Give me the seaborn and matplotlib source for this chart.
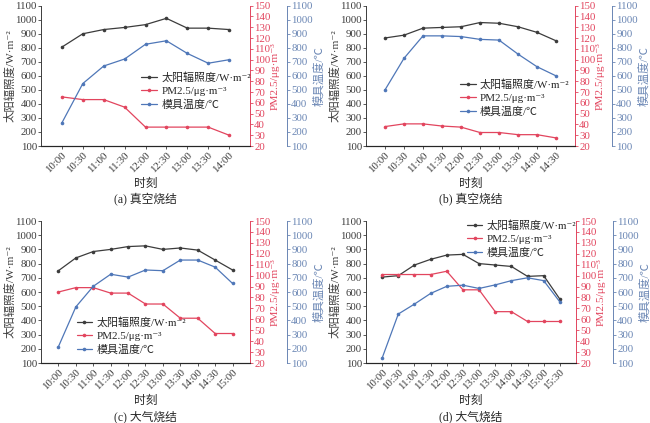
import matplotlib
matplotlib.use("Agg")
import matplotlib.pyplot as plt
import seaborn as sns
import numpy as np
import pandas as pd

sns.set_style("ticks")
plt.rcParams['font.family'] = ['Liberation Serif', 'Noto Sans CJK SC', 'DejaVu Sans']
plt.rcParams['axes.unicode_minus'] = False

# data
times_a = ["10:00", "10:30", "11:00", "11:30", "12:00", "12:30", "13:00", "13:30", "14:00"]
irr_a = [805, 900, 930, 945, 965, 1010, 940, 940, 930]
pm_a = [65.5, 63, 63, 56, 37.5, 37.5, 37.5, 37.5, 30]
temp_a = [265, 545, 670, 720, 825, 850, 760, 690, 715]

times_b = ["10:00", "10:30", "11:00", "11:30", "12:00", "12:30", "13:00", "13:30", "14:00", "14:30"]
irr_b = [870, 890, 940, 945, 950, 980, 975, 950, 910, 850]
pm_b = [38, 40.5, 40.5, 38.5, 37.5, 32.5, 32.5, 30.5, 30.5, 27.5]
temp_b = [500, 725, 885, 885, 880, 860, 855, 755, 665, 600]

times_c = ["10:00", "10:30", "11:00", "11:30", "12:00", "12:30", "13:00", "13:30", "14:00", "14:30", "15:00"]
irr_c = [750, 840, 885, 900, 920, 925, 900, 910, 895, 825, 755]
pm_c = [85, 89, 89, 84, 84, 74, 74, 61, 61, 47, 47]
temp_c = [215, 495, 640, 725, 705, 755, 750, 825, 825, 775, 660]

times_d = ["10:00", "10:30", "11:00", "11:30", "12:00", "12:30", "13:00", "13:30", "14:00", "14:30", "15:00", "15:30"]
irr_d = [705, 715, 790, 830, 860, 865, 800, 790, 780, 710, 715, 550]
pm_d = [101, 101, 101, 101, 104, 87, 87, 67, 67, 58, 58, 58]
temp_d = [135, 445, 515, 590, 640, 648, 625, 650, 680, 700, 680, 530]

captions = ["(a) 真空烧结", "(b) 真空烧结", "(c) 大气烧结", "(d) 大气烧结"]

c_black = "#3c3c3c"
c_red = "#e2455e"
c_blue = "#4f77b8"
c_blue_ax = "#6a86b4"

lab_irr = "太阳辐照度/W·m⁻²"
lab_pm = "PM2.5/μg·m⁻³"
lab_temp = "模具温度/℃"

W, H = 650, 423
fig = plt.figure(figsize=(6.5, 4.23), dpi=100)

# panel boxes in pixels: left, top, right, bottom
boxes = [(41, 5.7, 250, 146), (366, 5.7, 575, 146),
         (41, 221, 250, 363), (366, 221, 576, 363)]
legend_pos = [(0.47, 0.54), (0.44, 0.49), (0.16, 0.34), (0.47, 1.02)]
panels = [(times_a, irr_a, pm_a, temp_a), (times_b, irr_b, pm_b, temp_b),
          (times_c, irr_c, pm_c, temp_c), (times_d, irr_d, pm_d, temp_d)]

fs = 7.8
offset_pt = 37 * 72 / 100  # 37 px outward
for i, (times, irr, pm, temp) in enumerate(panels):
    l, t, r, b = boxes[i]
    ax = fig.add_axes([l / W, 1 - b / H, (r - l) / W, (b - t) / H])
    ax2 = ax.twinx()
    ax3 = ax.twinx()
    ax3.spines['right'].set_position(('outward', offset_pt))

    df = pd.DataFrame({"x": np.arange(len(times)), "irr": irr, "pm": pm, "temp": temp})
    sns.lineplot(data=df, x="x", y="irr", ax=ax, color=c_black, marker="o",
                 markersize=2.6, markeredgewidth=0, linewidth=0.9, label=lab_irr, legend=False)
    sns.lineplot(data=df, x="x", y="pm", ax=ax2, color=c_red, marker="o",
                 markersize=2.6, markeredgewidth=0, linewidth=0.9, label=lab_pm, legend=False)
    sns.lineplot(data=df, x="x", y="temp", ax=ax3, color=c_blue, marker="o",
                 markersize=2.6, markeredgewidth=0, linewidth=0.9, label=lab_temp, legend=False)

    ax.set_xlim(-1, len(times))
    ax.set_ylim(100, 1100)
    ax.set_yticks(np.arange(100, 1101, 100))
    ax2.set_ylim(20, 150)
    ax2.set_yticks(np.arange(20, 151, 10))
    ax3.set_ylim(100, 1100)
    ax3.set_yticks(np.arange(100, 1101, 100))

    ax.set_xticks(np.arange(len(times)))
    ax.set_xticklabels(times, rotation=45, ha="right", rotation_mode="anchor", fontsize=fs)
    ax.tick_params(axis="y", labelsize=fs, length=2, width=0.6, pad=1)
    ax.tick_params(axis="x", length=2, width=0.6, pad=1.5)
    ax2.tick_params(axis="y", labelsize=fs, length=2, width=0.6, pad=1,
                    colors=c_red)
    ax3.tick_params(axis="y", labelsize=fs, length=2, width=0.6, pad=1,
                    colors=c_blue_ax)

    for a in (ax, ax2, ax3):
        a.spines['top'].set_visible(False)
        a.set_xlabel("")
    ax.spines['right'].set_visible(False)
    ax2.spines['left'].set_visible(False)
    ax3.spines['left'].set_visible(False)
    ax.spines['left'].set_color(c_black)
    ax.spines['bottom'].set_color(c_black)
    ax2.spines['right'].set_color(c_red)
    ax3.spines['right'].set_color(c_blue_ax)
    for sp in ('left', 'bottom'):
        ax.spines[sp].set_linewidth(0.7)
    ax2.spines['right'].set_linewidth(0.7)
    ax3.spines['right'].set_linewidth(0.7)
    ax.tick_params(colors=c_black)

    ax.set_ylabel(lab_irr, fontsize=8.2, color=c_black, labelpad=0)
    ax2.set_ylabel(lab_pm, fontsize=8.2, color=c_red, labelpad=0)
    ax3.set_ylabel(lab_temp, fontsize=8.2, color=c_blue_ax, labelpad=0)
    ax.set_xlabel("时刻", fontsize=8.5, labelpad=2)

    handles = ax.get_lines()[:1] + ax2.get_lines()[:1] + ax3.get_lines()[:1]
    leg = ax3.legend(handles, [lab_irr, lab_pm, lab_temp], loc="upper left",
                     bbox_to_anchor=legend_pos[i], frameon=False, fontsize=7.9,
                     handlelength=1.4, handletextpad=0.4, labelspacing=0.3,
                     borderpad=0.2, borderaxespad=0)

    fig.text((l + r) / 2 / W, 1 - (b + 54) / H, captions[i], ha="center", va="center",
             fontsize=8.5)

fig.savefig("out.png", dpi=100, facecolor="white")
